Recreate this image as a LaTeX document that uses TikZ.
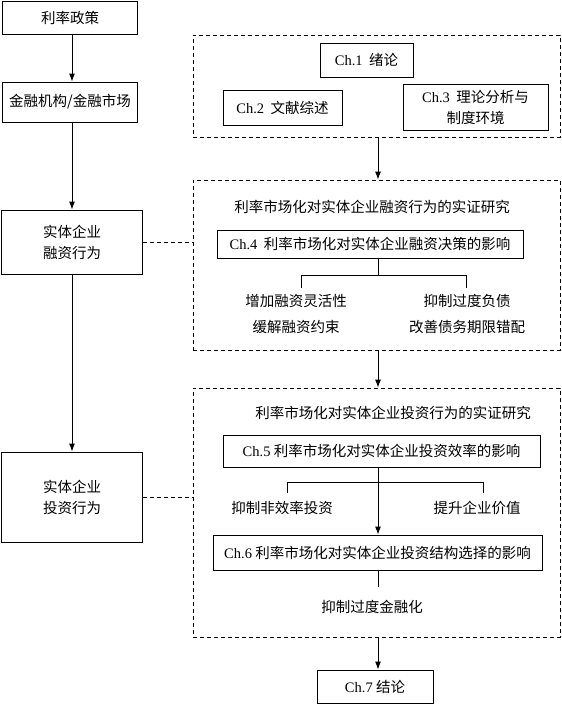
\documentclass[tikz,border=0pt]{standalone}
\usepackage{fontspec}
\setmainfont{Liberation Serif}
\newfontfamily\cjk{Noto Sans CJK SC}
\newfontfamily\tm{Liberation Serif}
\usetikzlibrary{arrows.meta}
\begin{document}
\begin{tikzpicture}[x=1pt,y=-1pt,
  box/.style={draw,line width=0.9pt,inner sep=0pt,align=center,font=\cjk\fontsize{14.5}{21}\selectfont},
  txt/.style={inner sep=0pt,align=center,font=\cjk\fontsize{14.5}{26}\selectfont},
  dbox/.style={draw,line width=0.8pt,dash pattern=on 4pt off 3pt,inner sep=0pt},
  dline/.style={line width=0.8pt,dash pattern=on 4pt off 3pt},
  arr/.style={-{Latex[length=8pt,width=6pt]},line width=0.9pt},
  ln/.style={line width=0.9pt}]
\useasboundingbox (0,0) rectangle (562,704);
\coordinate (mx) at (378,0);
\coordinate (lx) at (72,0);
% left column
\node[box,minimum width=135,minimum height=33] (pol) at (70,18) {利率政策};
\node[box,minimum width=135,minimum height=40] (fin) at (70,102) {金融机构/金融市场};
\node[box,minimum width=141,minimum height=64] (rz) at (72,242) {实体企业\\融资行为};
\node[box,minimum width=141,minimum height=90] (tz) at (72,497) {实体企业\\投资行为};
\draw[arr] (pol.south -| lx) -- (fin.north -| lx);
\draw[arr] (fin.south -| lx) -- (rz.north -| lx);
\draw[arr] (rz.south -| lx) -- (tz.north -| lx);
% dashed groups
\node[dbox,minimum width=367,minimum height=102] (g1) at (376.5,86) {};
\node[dbox,minimum width=367,minimum height=170] (g2) at (376.5,265) {};
\node[dbox,minimum width=367,minimum height=249] (g3) at (376.5,512.5) {};
\draw[dline] (rz.east) -- (rz.east -| g2.west);
\draw[dline] (tz.east) -- (tz.east -| g3.west);
% group 1
\node[box,minimum width=93,minimum height=34] (c1) at (366.5,60) {{\tm Ch.1}\ \ 绪论};
\node[box,minimum width=119,minimum height=35] (c2) at (282.5,107.5) {{\tm Ch.2}\ \ 文献综述};
\node[box,minimum width=145,minimum height=46] (c3) at (475.5,107) {{\tm Ch.3}\ \ 理论分析与\\制度环境};
\draw[arr] (g1.south -| mx) -- (g2.north -| mx);
% group 2
\node[txt] (t1) at (372,207) {利率市场化对实体企业融资行为的实证研究};
\node[box,minimum width=306,minimum height=28] (c4) at (370,244) {{\tm Ch.4}\ \ 利率市场化对实体企业融资决策的影响};
\coordinate (b4) at (378,275);
\coordinate (b4l) at (301,275);
\coordinate (b4r) at (466,275);
\node[txt] (fa) at (296,314) {增加融资灵活性\\缓解融资约束};
\node[txt] (fb) at (467,314) {抑制过度负债\\改善债务期限错配};
\draw[ln] (c4.south -| mx) -- (b4);
\draw[ln] (301,288) -- (b4l) -- (b4r) -- (466,288);
\draw[arr] (g2.south -| mx) -- (g3.north -| mx);
% group 3
\node[txt] (t2) at (393,413) {利率市场化对实体企业投资行为的实证研究};
\node[box,minimum width=317,minimum height=32] (c5) at (381.5,451) {{\tm Ch.5} 利率市场化对实体企业投资效率的影响};
\node[box,minimum width=329,minimum height=35] (c6) at (377.5,552.5) {{\tm Ch.6} 利率市场化对实体企业投资结构选择的影响};
\draw[arr] (c5.south -| mx) -- (c6.north -| mx);
\coordinate (b5l) at (287,482);
\coordinate (b5r) at (483,482);
\draw[ln] (287,493) -- (b5l) -- (b5r) -- (483,493);
\node[txt] (ia) at (282,508) {抑制非效率投资};
\node[txt] (ib) at (477,508) {提升企业价值};
\coordinate (b6) at (378,587);
\draw[ln] (c6.south -| mx) -- (b6);
\node[txt] (ic) at (372,607) {抑制过度金融化};
\node[box,minimum width=116,minimum height=33] (c7) at (375,686.5) {{\tm Ch.7} 结论};
\draw[arr] (g3.south -| mx) -- (c7.north -| mx);
\end{tikzpicture}
\end{document}
